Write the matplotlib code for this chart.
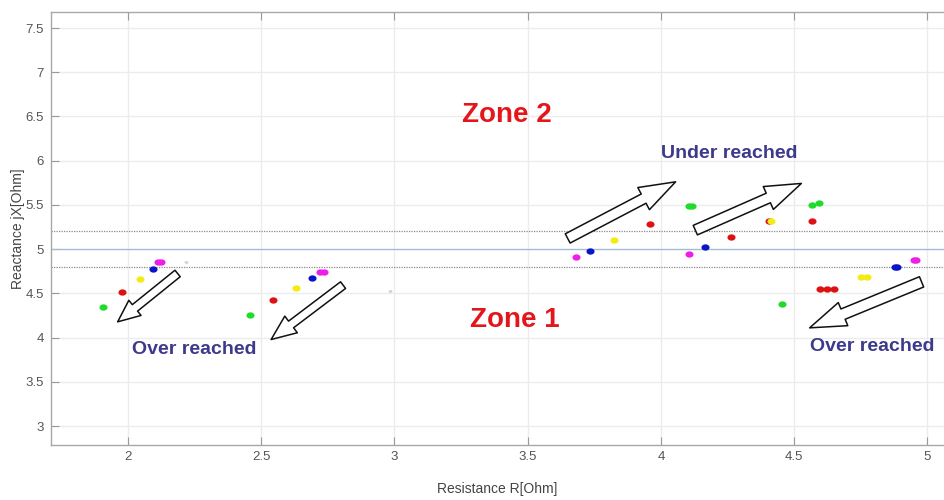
import numpy as np
import matplotlib
matplotlib.use("Agg")
import matplotlib.pyplot as plt
from matplotlib.path import Path
from matplotlib.patches import FancyArrowPatch, ArrowStyle

plt.rcParams['font.family'] = ['Liberation Sans', 'DejaVu Sans']

# ---- data ----
green_R = [1.905, 2.456, 4.105, 4.118, 4.453, 4.566, 4.592]
green_X = [4.35, 4.26, 5.49, 5.49, 4.38, 5.50, 5.52]

red_R = [1.978, 2.545, 3.958, 4.262, 4.404, 4.565, 4.598, 4.623, 4.649]
red_X = [4.52, 4.42, 5.28, 5.14, 5.32, 5.32, 4.55, 4.55, 4.55]

yellow_R = [2.044, 2.630, 3.823, 4.413, 4.752, 4.774]
yellow_X = [4.66, 4.56, 5.10, 5.32, 4.69, 4.69]

blue_R = [2.092, 2.692, 3.735, 4.166, 4.877, 4.887]
blue_X = [4.77, 4.67, 4.98, 5.02, 4.80, 4.80]

magenta_R = [2.114, 2.123, 2.722, 2.734, 3.680, 4.104, 4.951, 4.959]
magenta_X = [4.85, 4.85, 4.74, 4.74, 4.91, 4.94, 4.88, 4.88]

faint_R = [2.217, 2.982]
faint_X = [4.85, 4.525]

limit_levels = [5.2, 5.0, 4.8]

# arrows: (tail R, tail X, head R, head X)
arrow_tail_R = [2.186, 2.807, 3.650, 4.129, 4.978]
arrow_tail_X = [4.725, 4.593, 5.121, 5.215, 4.630]
arrow_head_R = [1.961, 2.537, 4.055, 4.527, 4.558]
arrow_head_X = [4.178, 3.978, 5.761, 5.743, 4.110]

x_ticks = [2, 2.5, 3, 3.5, 4, 4.5, 5]
y_ticks = [3, 3.5, 4, 4.5, 5, 5.5, 6, 6.5, 7, 7.5]

fig = plt.figure(figsize=(9.45, 5.0), dpi=100)
ax = fig.add_axes([0.054, 0.111, 0.946, 0.8644])
ax.set_xlim(1.711, 5.066)
ax.set_ylim(2.791, 7.678)

ax.set_xticks(x_ticks)
ax.set_xticklabels([f"{v:g}" for v in x_ticks])
ax.set_yticks(y_ticks)
ax.set_yticklabels([f"{v:g}" for v in y_ticks])
ax.grid(True, color='#ececec', linewidth=1.0)
ax.set_axisbelow(True)
ax.tick_params(direction='in', length=6, color='#9a9a9a', labelcolor='#555555',
               labelsize=9.5, top=True, right=False, pad=5)
for side in ['left', 'bottom', 'top']:
    ax.spines[side].set_color('#a8a8a8')
    ax.spines[side].set_linewidth(1.0)
ax.spines['right'].set_visible(False)

# zone boundary lines
ax.axhline(limit_levels[0], color='#8a8a8a', linestyle=(0, (1, 1)), linewidth=0.9)
ax.axhline(limit_levels[1], color='#9dbbd9', linestyle='-', linewidth=0.9)
ax.axhline(limit_levels[2], color='#8a8a8a', linestyle=(0, (1, 1)), linewidth=0.9)

# ellipse marker
t = np.linspace(0, 2 * np.pi, 40)
ell = Path(np.column_stack([np.cos(t), 0.78 * np.sin(t)]), closed=True)

ax.scatter(faint_R, faint_X, s=8, marker=ell, color='#d5d5d5', linewidths=0, zorder=3)
ax.scatter(green_R, green_X, s=34, marker=ell, color='#1fdc2a', linewidths=0, zorder=3)
ax.scatter(red_R, red_X, s=34, marker=ell, color='#dd1111', linewidths=0, zorder=3)
ax.scatter(yellow_R, yellow_X, s=34, marker=ell, color='#f2ec12', linewidths=0, zorder=4)
ax.scatter(blue_R, blue_X, s=34, marker=ell, color='#0a14c8', linewidths=0, zorder=3)
ax.scatter(magenta_R, magenta_X, s=34, marker=ell, color='#ee1ee8', linewidths=0, zorder=3)

# arrows
sizes = [(6.0, 14.0, 16.0), (6.0, 15.0, 18.0), (7.5, 18.0, 26.0), (7.5, 18.0, 26.0), (8.0, 18.0, 26.0)]
for i in range(len(arrow_tail_R)):
    tw, hw, hl = sizes[i]
    style = ArrowStyle.Simple(head_length=hl, head_width=hw, tail_width=tw)
    arr = FancyArrowPatch((arrow_tail_R[i], arrow_tail_X[i]),
                          (arrow_head_R[i], arrow_head_X[i]),
                          arrowstyle=style, mutation_scale=1,
                          facecolor='white', edgecolor='#111111', linewidth=1.1,
                          shrinkA=0, shrinkB=0, zorder=5)
    ax.add_patch(arr)

# texts
zone_col = '#e3161b'
reach_col = '#3d3a8c'
ax.text(3.422, 6.519, 'Zone 2', color=zone_col, fontsize=20, fontweight='bold',
        ha='center', va='center', zorder=6)
ax.text(3.452, 4.198, 'Zone 1', color=zone_col, fontsize=20, fontweight='bold',
        ha='center', va='center', zorder=6)
ax.text(4.255, 6.087, 'Under reached', color=reach_col, fontsize=14, fontweight='bold',
        ha='center', va='center', zorder=6)
ax.text(2.247, 3.863, 'Over reached', color=reach_col, fontsize=14, fontweight='bold',
        ha='center', va='center', zorder=6)
ax.text(4.792, 3.904, 'Over reached', color=reach_col, fontsize=14, fontweight='bold',
        ha='center', va='center', zorder=6)

ax.set_xlabel('Resistance R[Ohm]', fontsize=10, color='#444444')
ax.set_ylabel('Reactance jX[Ohm]', fontsize=10, color='#444444')
ax.xaxis.label.set_va('center')
ax.yaxis.label.set_va('center')
ax.xaxis.set_label_coords(0.4989, -0.104)
ax.yaxis.set_label_coords(-0.037, 0.5)

fig.savefig('out.png', dpi=100)
